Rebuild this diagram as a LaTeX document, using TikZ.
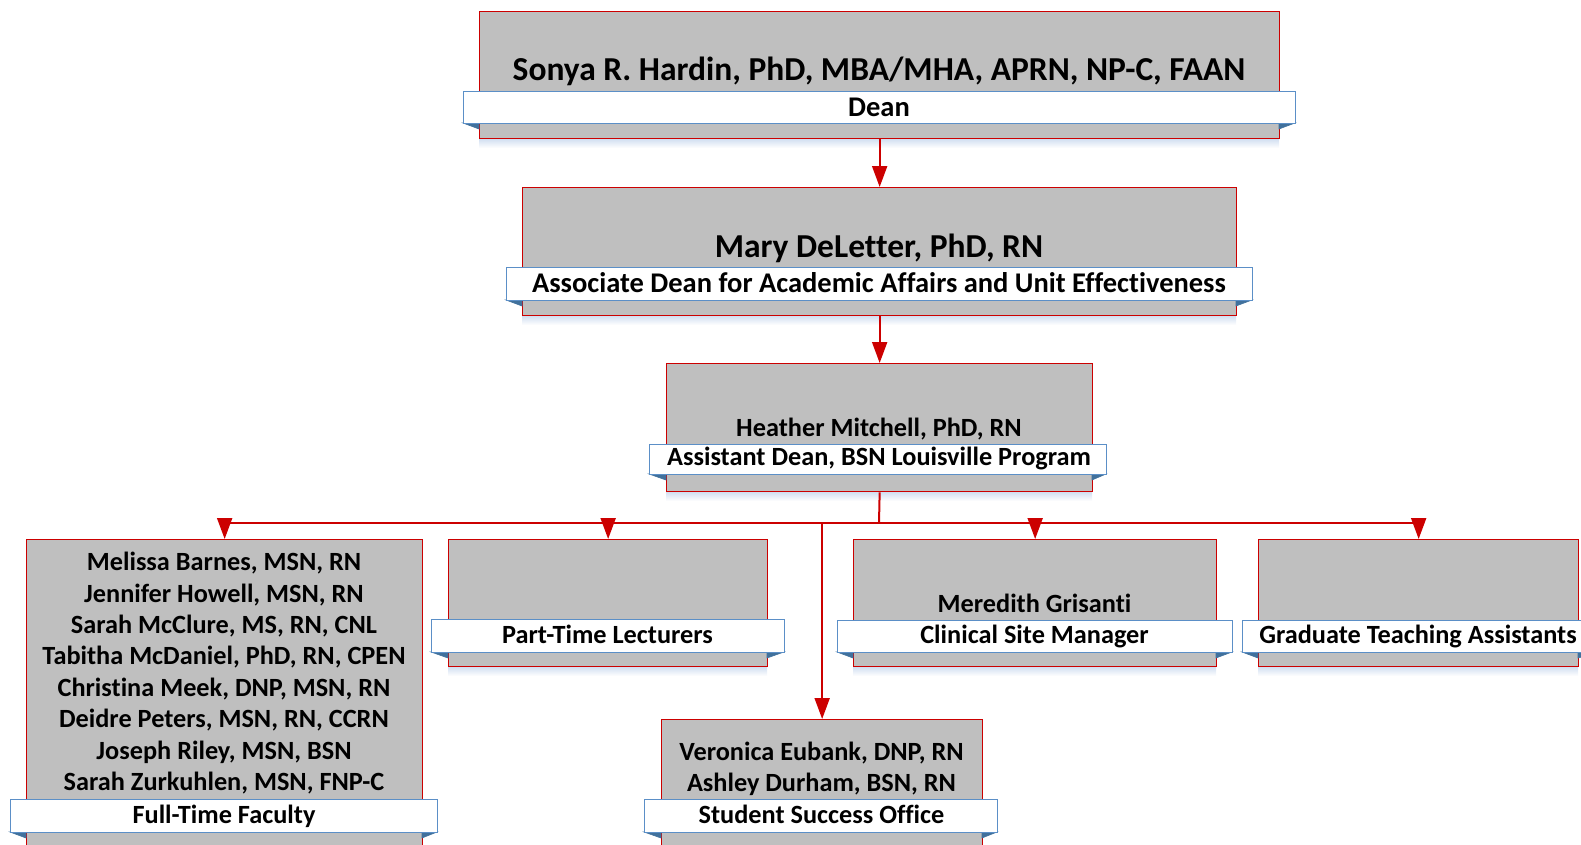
\documentclass[tikz,border=0pt]{standalone}
\usepackage{fontspec}
\setmainfont{Carlito}[Ligatures=NoCommon]
\usetikzlibrary{arrows.meta}
\definecolor{boxgray}{RGB}{191,191,191}
\definecolor{boxred}{RGB}{204,0,0}
\definecolor{ribblue}{RGB}{91,143,199}
\definecolor{folddark}{RGB}{65,113,156}
\definecolor{shade}{RGB}{205,220,240}
\tikzset{
  unitbox/.style={draw=boxred, line width=1.3pt, fill=boxgray, inner sep=0pt, anchor=north west},
  ribbon/.style={draw=ribblue, line width=1.2pt, fill=white, inner sep=0pt, anchor=north west},
  fold/.style={fill=folddark, draw=folddark, line width=0.6pt},
  link/.style={draw=boxred, line width=2pt},
  conn/.style={link, -{Triangle[width=15pt,length=21pt]}},
  txt/.style={inner sep=0pt, anchor=base},
  bigname/.style={txt, font=\bfseries\fontsize{33.5}{40}\selectfont},
  midlabel/.style={txt, font=\bfseries\fontsize{28.5}{34}\selectfont},
  persontxt/.style={txt, font=\bfseries\fontsize{26.3}{31.4}\selectfont},
}
% one unit: gray box with a white ribbon across it
\newcommand\orgunit[9]{% name, box x1,y1,x2,y2, ribbon x1,y1,x2,y2
  \shade[top color=shade, bottom color=white] (#2,#5) rectangle (#4,#5+10);
  \node[unitbox, minimum width=#4-#2, minimum height=#5-#3] (#1) at (#2,#3) {};
  \fill[fold] (#6,#9) -- (#2,#9) -- (#2,#9+6) -- cycle;
  \fill[fold] (#8,#9) -- (#4,#9) -- (#4,#9+6) -- cycle;
  \node[ribbon, minimum width=#8-#6, minimum height=#9-#7] (#1-r) at (#6,#7) {};
}
\begin{document}
\begin{tikzpicture}[x=1pt,y=-1pt]
\useasboundingbox (0,0) rectangle (1581,844);
\clip (0,0) rectangle (1581,844);

\orgunit{dean}{479}{11}{1279}{138}{463}{91}{1295}{123}
\orgunit{assoc}{522}{187}{1236}{315}{506}{267}{1252}{300}
\orgunit{asst}{666}{363}{1092}{491}{649}{444}{1106}{474}
\orgunit{ftf}{26}{539}{422}{880}{10}{799}{437}{832}
\orgunit{ptl}{448}{539}{767}{666}{431}{619}{784}{652}
\orgunit{csm}{853}{539}{1216}{666}{837}{620}{1232}{652}
\orgunit{gta}{1258}{539}{1578}{666}{1242}{620}{1600}{652}
\orgunit{sso}{661}{719}{982}{880}{644}{799}{997}{832}

% texts
\node[bigname] (t-dean) at (879,80) {Sonya R. Hardin, PhD, MBA/MHA, APRN, NP-C, FAAN};
\node[midlabel] (l-dean) at (879,116) {Dean};
\node[bigname] (t-assoc) at (879,257) {Mary DeLetter, PhD, RN};
\node[midlabel] (l-assoc) at (879,292) {Associate Dean for Academic Affairs and Unit Effectiveness};
\node[persontxt] (t-asst) at (879,436) {Heather Mitchell, PhD, RN};
\node[persontxt] (l-asst) at (879,465) {Assistant Dean, BSN Louisville Program};

\node[persontxt, align=center, anchor=north] (t-ftf) at (224,552) {Melissa Barnes, MSN, RN\\Jennifer Howell, MSN, RN\\Sarah McClure, MS, RN, CNL\\Tabitha McDaniel, PhD, RN, CPEN\\Christina Meek, DNP, MSN, RN\\Deidre Peters, MSN, RN, CCRN\\Joseph Riley, MSN, BSN\\Sarah Zurkuhlen, MSN, FNP-C};
\node[persontxt] (l-ftf) at (224,823) {Full-Time Faculty};
\node[persontxt] (l-ptl) at (607.5,643) {Part-Time Lecturers};
\node[persontxt] (t-csm) at (1034.5,612) {Meredith Grisanti};
\node[persontxt] (l-csm) at (1034.5,643) {Clinical Site Manager};
\node[persontxt] (l-gta) at (1418,643) {Graduate Teaching Assistants};
\node[persontxt] (t-sso) at (821.5,760) {Veronica Eubank, DNP, RN};
\node[persontxt] (t-sso2) at (821.5,791) {Ashley Durham, BSN, RN};
\node[persontxt] (l-sso) at (821.5,823) {Student Success Office};

% connectors
\draw[conn] (dean.south) -- (assoc.north);
\draw[conn] (assoc.south) -- (asst.north);
\coordinate (bus) at (879,523);
\draw[link] (asst.south) -- (bus);
\draw[link] (ftf.north |- bus) -- (gta.north |- bus);
\foreach \n in {ftf,ptl,csm,gta,sso}
  \draw[conn] (\n.north |- bus) -- (\n.north);
\end{tikzpicture}
\end{document}
